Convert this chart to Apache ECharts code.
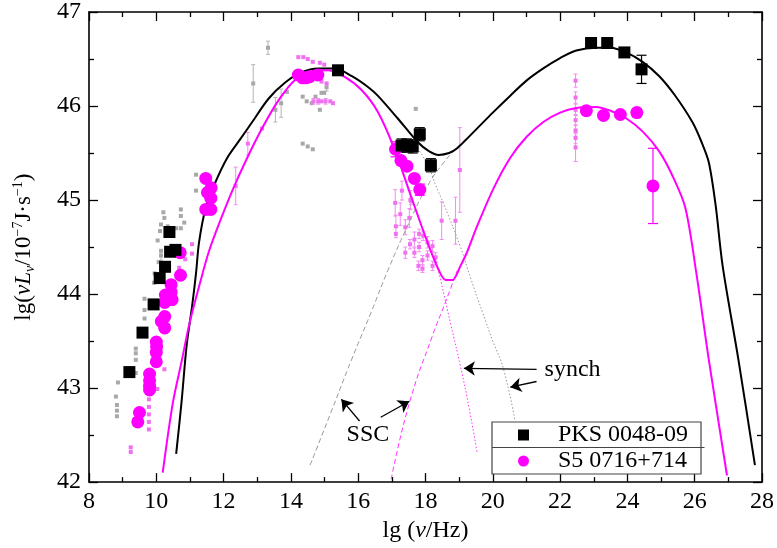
<!DOCTYPE html>
<html><head><meta charset="utf-8">
<script src="https://cdn.jsdelivr.net/npm/echarts@6/dist/echarts.min.js"></script>
<style>html,body{margin:0;padding:0;background:#fff}#c{width:777px;height:548px}</style>
</head><body><div id="c"></div>
<script>
// ---------- data (lg nu, lg nuL, error) ----------
var pksPoints = [[9.20,43.17,0.05],[9.59,43.59,0],[9.92,43.89,0],[10.10,44.17,0],[10.26,44.29,0],[10.41,44.45,0],[10.57,44.47,0],[10.39,44.66,0],[15.40,46.38,0],[17.29,45.58,0.07],[17.45,45.58,0.07],[17.62,45.57,0.07],[17.83,45.70,0.07],[18.16,45.37,0.07],[22.92,46.67,0.05],[23.40,46.67,0],[23.91,46.57,0.04],[24.42,46.39,0.15]];
var s5Points = [[22.78,45.95,0],[23.29,45.90,0],[23.79,45.91,0],[24.28,45.93,0.04],[24.76,45.15,0.4],
  [17.11,45.54,0.08],[17.27,45.42,0],[17.45,45.36,0],[17.67,45.23,0],[17.83,45.11,0.06],
  [14.22,46.33,0],[14.35,46.30,0],[14.45,46.30,0],[14.55,46.31,0],[14.80,46.33,0.04],
  [11.47,45.23,0],[11.52,45.08,0],[11.62,45.02,0],[11.63,45.13,0],[11.47,44.90,0],[11.62,44.90,0],
  [10.71,44.44,0],[10.72,44.20,0],[10.44,44.10,0],[10.44,44.02,0],[10.27,43.99,0],[10.47,43.94,0],[10.25,43.91,0],[10.25,43.76,0],[10.15,43.71,0],[10.25,43.64,0],
  [10.00,43.49,0],[10.01,43.44,0],[10.00,43.38,0],[10.00,43.28,0],[9.80,43.15,0],[9.80,43.08,0],[9.80,43.02,0],[9.80,42.98,0],[9.50,42.74,0],[9.45,42.64,0.04]];
var grayPoints = [[13.32,46.62,0.07],[12.88,46.24,0.2],[13.71,46.03,0.15],[13.54,45.96,0.13],[13.88,46.15,0],[14.35,46.10,0],[14.47,46.05,0],[14.62,46.03,0],[14.73,46.10,0],[14.86,45.96,0],[14.91,46.14,0],[14.99,46.14,0],[15.06,46.20,0.04],[14.35,45.60,0],[14.50,45.57,0],[14.65,45.54,0],[17.71,45.97,0],[17.57,44.99,0.04],
  [11.18,45.27,0],[11.18,45.10,0],[10.21,44.87,0],[10.24,44.81,0],[10.73,44.90,0],[10.73,44.83,0],[10.83,44.76,0],[10.14,44.74,0],[10.11,44.67,0],[10.34,44.72,0],[10.59,44.70,0],[10.73,44.70,0],[10.04,44.57,0],[10.14,44.46,0],[10.14,44.41,0.05],[10.07,44.34,0],[9.95,44.22,0],[9.93,44.12,0],[9.65,43.95,0],[9.65,43.83,0],[9.65,43.74,0],[9.39,43.42,0],[9.39,43.37,0],[9.39,43.30,0],[9.39,43.16,0],[8.86,43.06,0],[8.80,42.91,0],[8.83,42.82,0],[8.83,42.76,0],[8.83,42.70,0]];
var s5Small = [[17.10,44.97,0.14],[17.25,44.85,0.12],[17.12,44.72,0.12],[17.40,44.71,0.08],[17.52,44.81,0.1],[17.12,44.64,0],[17.40,44.44,0.06],[17.54,44.53,0.05],[17.67,44.58,0.08],[17.67,44.44,0.05],[17.81,44.64,0.05],[17.81,44.50,0.05],[17.93,44.62,0.05],[17.91,44.36,0.05],[18.06,44.55,0.06],[18.06,44.41,0.05],[17.79,44.30,0.05],[17.91,44.27,0.04],[18.21,44.51,0.06],[18.21,44.30,0.05],[18.30,44.39,0.05],[18.48,44.78,0.2],[18.89,44.78,0.25],[19.02,45.32,0.45],[17.30,45.10,0.1],[17.55,45.00,0.1],
  [14.22,46.52,0],[14.37,46.52,0],[14.50,46.50,0],[14.65,46.47,0],[14.86,46.46,0],[14.99,46.44,0],[14.79,46.31,0.04],[14.91,46.26,0],[15.06,46.24,0],[14.67,46.05,0.03],[14.81,46.05,0.03],[14.91,46.05,0],[15.03,46.05,0.03],[15.17,46.05,0],[15.25,46.03,0],[12.72,45.60,0.12],[12.36,45.15,0.2],[13.14,45.76,0],[11.06,44.43,0],[11.06,44.53,0],
  [22.46,46.27,0.07],[22.46,46.09,0.06],[22.46,45.96,0.06],[22.46,45.85,0.06],[22.46,45.74,0.06],[22.46,45.66,0.06],[22.46,45.56,0.15],
  [9.78,42.96,0],[9.78,42.88,0],[9.78,42.80,0],[9.78,42.72,0],[9.78,42.64,0],[9.78,42.56,0],[9.24,42.37,0],[9.24,42.32,0],[10.24,43.20,0],[10.03,42.99,0],[10.86,44.37,0],[10.68,44.28,0]];
var pksModel = [[10.59,42.30],[10.75,42.85],[10.90,43.45],[11.06,43.86],[11.18,44.22],[11.27,44.55],[11.47,44.92],[11.72,45.16],[12.11,45.45],[12.50,45.65],[12.85,45.83],[13.34,46.08],[13.83,46.25],[14.32,46.36],[14.81,46.40],[15.31,46.40],[15.80,46.32],[16.30,46.20],[16.58,46.11],[17.17,45.87],[17.76,45.62],[18.10,45.52],[18.40,45.48],[18.70,45.50],[18.94,45.55],[19.53,45.76],[20.00,45.93],[20.52,46.11],[21.00,46.27],[21.50,46.40],[22.00,46.51],[22.48,46.59],[23.07,46.62],[23.50,46.62],[23.96,46.57],[24.45,46.47],[24.94,46.32],[25.40,46.12],[25.93,45.83],[26.20,45.62],[26.42,45.40],[26.62,44.95],[26.83,44.30],[27.30,43.30],[27.79,42.18]];
var s5Model = [[10.19,42.10],[10.49,42.84],[10.75,43.28],[10.98,43.68],[11.30,44.12],[11.57,44.46],[11.90,44.78],[12.26,45.10],[12.65,45.41],[13.14,45.76],[13.63,46.06],[14.13,46.28],[14.62,46.37],[15.11,46.38],[15.60,46.31],[16.10,46.17],[16.58,45.94],[17.07,45.55],[17.56,45.05],[18.06,44.55],[18.40,44.25],[18.60,44.15],[18.80,44.15],[19.04,44.30],[19.24,44.45],[19.53,44.72],[20.03,45.13],[20.52,45.45],[21.00,45.67],[21.50,45.83],[22.00,45.93],[22.48,45.98],[23.07,45.99],[23.50,45.95],[23.96,45.87],[24.45,45.73],[24.94,45.52],[25.35,45.25],[25.72,44.92],[26.05,44.22],[26.42,43.30],[26.96,42.07]];
var pksSSC = [[14.57,42.18],[15.20,42.75],[15.80,43.30],[16.40,43.82],[16.88,44.25],[17.50,44.75],[18.06,45.15],[18.50,45.38],[18.94,45.56],[19.20,45.65]];
var pksSynch = [[17.70,45.58],[18.06,45.38],[18.30,45.16],[18.55,44.95],[19.04,44.50],[19.34,44.17],[19.70,43.80],[20.00,43.50],[20.32,43.20],[20.66,42.65]];
var s5Synch = [[18.30,44.38],[18.45,44.15],[18.75,43.68],[19.04,43.23],[19.30,42.78],[19.53,42.32]];
var s5SSC = [[16.98,42.03],[17.52,42.84],[18.20,43.55],[18.60,43.92],[18.94,44.25]];
var xTicks = {min: 8, max: 28, interval: 2};
var yTicks = {min: 42, max: 47, interval: 1};

// ---------- chart ----------
var FONT = 'Liberation Serif';
var chart = echarts.init(document.getElementById('c'), null, {renderer: 'canvas'});
function axisBase(t, pos, showLabel) {
  return {type: 'value', position: pos, min: t.min, max: t.max, interval: t.interval,
    axisLine: {show: true, onZero: false, lineStyle: {color: '#000', width: 1.6}},
    axisTick: {show: true, inside: true, length: 9, lineStyle: {color: '#000', width: 1.3}},
    minorTick: {show: true, splitNumber: 2, length: 5, lineStyle: {color: '#000', width: 1.3}},
    splitLine: {show: false},
    axisLabel: {show: showLabel, fontSize: 24, fontFamily: FONT, color: '#000', margin: 8}};
}
function errSeries(data, color, lw, cap, z) {
  return {type: 'custom', silent: true, z: z, data: data.filter(function (d) { return d[2] > 0; }),
    encode: {x: 0, y: 1},
    renderItem: function (p, api) {
      var x = api.value(0), y = api.value(1), e = api.value(2);
      var a = api.coord([x, y + e]), b = api.coord([x, y - e]);
      var st = {stroke: color, lineWidth: lw};
      return {type: 'group', children: [
        {type: 'line', shape: {x1: a[0], y1: a[1], x2: b[0], y2: b[1]}, style: st},
        {type: 'line', shape: {x1: a[0] - cap, y1: a[1], x2: a[0] + cap, y2: a[1]}, style: st},
        {type: 'line', shape: {x1: b[0] - cap, y1: b[1], x2: b[0] + cap, y2: b[1]}, style: st}]};
    }};
}
var xa = axisBase(xTicks, 'bottom', true);
xa.name = '{n|lg (}{i|ν}{n|/Hz)}';
xa.nameLocation = 'middle'; xa.nameGap = 32;
xa.nameTextStyle = {rich: {n: {fontSize: 24, fontFamily: FONT, color: '#000'}, i: {fontSize: 24, fontFamily: FONT, fontStyle: 'italic', color: '#000'}}};
var ya = axisBase(yTicks, 'left', true);
ya.name = '{n|lg(}{i|νL}{sub|ν}{n|/10}{sup|−7}{n|J·s}{sup|−1}{n|)}';
ya.nameLocation = 'middle'; ya.nameGap = 52;
ya.nameTextStyle = {rich: {
  n: {fontSize: 23, fontFamily: FONT, color: '#000'},
  i: {fontSize: 23, fontFamily: FONT, fontStyle: 'italic', color: '#000'},
  sub: {fontSize: 14, fontFamily: FONT, fontStyle: 'italic', color: '#000', padding: [12, 0, 0, 0]},
  sup: {fontSize: 14, fontFamily: FONT, color: '#000', padding: [0, 0, 12, 0]}}};
var arrowLines = [
  [{coord: [21.30, 43.20]}, {coord: [19.14, 43.21]}],
  [{coord: [21.30, 43.07]}, {coord: [20.52, 43.01]}],
  [{coord: [16.04, 42.65]}, {coord: [15.50, 42.88]}],
  [{coord: [16.67, 42.69]}, {coord: [17.52, 42.86]}]];
var textLabels = [{name: 'synch', coord: [22.37, 43.20]}, {name: 'SSC', coord: [16.29, 42.50]}];

var option = {
  animation: false,
  backgroundColor: '#fff',
  grid: {left: 89, right: 10, top: 9, bottom: 65, containLabel: false},
  xAxis: [xa, axisBase(xTicks, 'top', false)],
  yAxis: [ya, axisBase(yTicks, 'right', false)],
  legend: {
    left: 492, top: 422, orient: 'vertical', itemWidth: 11, itemHeight: 11, itemGap: 2,
    padding: [1, 13, 1, 26], borderColor: '#444', borderWidth: 1.2, backgroundColor: '#fff',
    textStyle: {fontSize: 24, fontFamily: FONT, color: '#000', lineHeight: 24, padding: [0, 0, 0, 24]},
    data: [{name: 'PKS 0048-09', icon: 'rect'}, {name: 'S5 0716+714', icon: 'circle'}]
  },
  graphic: [{type: 'line', z: 100, shape: {x1: 492, y1: 447.5, x2: 704.5, y2: 447.5}, style: {stroke: '#444', lineWidth: 1.2}}],
  series: [
    errSeries(grayPoints, '#b5b5b5', 1, 2, 1),
    {type: 'scatter', name: 'gray', data: grayPoints, symbol: 'rect', symbolSize: 4, itemStyle: {color: '#a8a8a8', opacity: 1}, z: 1, silent: true},
    errSeries(s5Small, '#f48af4', 1, 2, 2),
    {type: 'scatter', name: 'small', data: s5Small, symbol: 'rect', symbolSize: 4, itemStyle: {color: '#f070f0', opacity: 1}, z: 2, silent: true},
    {type: 'line', data: pksSSC, showSymbol: false, symbol: 'none', smooth: true, lineStyle: {color: '#999', width: 1, type: [5, 3]}, z: 3,
      markLine: {silent: true, symbol: ['none', 'arrow'], symbolSize: 11, label: {show: false}, lineStyle: {color: '#000', width: 1.3, type: 'solid'}, data: arrowLines},
      markPoint: {silent: true, symbol: 'rect', symbolSize: 1, itemStyle: {color: 'rgba(0,0,0,0)'},
        label: {show: true, position: 'inside', formatter: '{b}', fontSize: 24, fontFamily: FONT, color: '#000'}, data: textLabels}},
    {type: 'line', data: pksSynch, showSymbol: false, symbol: 'none', smooth: true, lineStyle: {color: '#999', width: 1, type: [1.5, 2]}, z: 3},
    {type: 'line', data: s5SSC, showSymbol: false, symbol: 'none', smooth: true, lineStyle: {color: '#ff33ff', width: 1, type: [5, 3]}, z: 3},
    {type: 'line', data: s5Synch, showSymbol: false, symbol: 'none', smooth: true, lineStyle: {color: '#ff33ff', width: 1, type: [1.5, 2]}, z: 3},
    {type: 'line', data: pksModel, showSymbol: false, symbol: 'none', smooth: 0.3, lineStyle: {color: '#000', width: 2}, z: 4},
    {type: 'line', data: s5Model, showSymbol: false, symbol: 'none', smooth: 0.3, lineStyle: {color: '#ff00ff', width: 2}, z: 4},
    errSeries(pksPoints, '#000', 1.2, 5, 5),
    errSeries(s5Points, '#ff00ff', 1.2, 5, 5),
    {type: 'scatter', name: 'S5 0716+714', data: s5Points, symbol: 'circle', symbolSize: 13, itemStyle: {color: '#ff00ff', opacity: 1}, z: 6},
    {type: 'scatter', name: 'PKS 0048-09', data: pksPoints, symbol: 'rect', symbolSize: 12, itemStyle: {color: '#000', opacity: 1}, z: 7}
  ]
};
chart.setOption(option);
</script></body></html>
